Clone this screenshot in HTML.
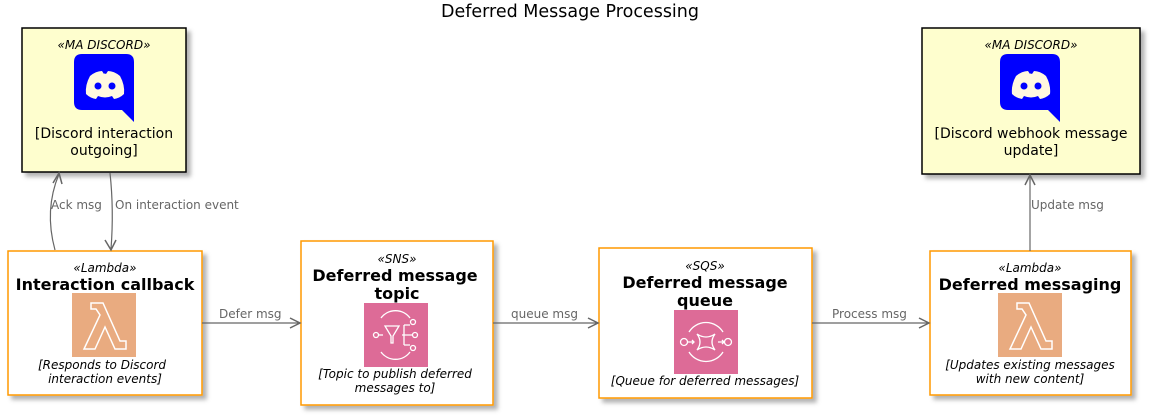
<!DOCTYPE html>
<html><head><meta charset="utf-8"><style>
html,body{margin:0;padding:0;background:#fff;}
svg{display:block;font-family:"DejaVu Sans","Liberation Sans",sans-serif;}
.st{font-size:12px;font-style:italic;fill:#000;}
.ti{font-size:16px;font-weight:bold;fill:#000;}
.ds{font-size:12px;font-style:italic;fill:#000;}
.lb{font-size:12px;fill:#666;}
.dt{font-size:14px;fill:#000;}
.ln{stroke:#666;stroke-width:1.2;fill:none;}
.ah{fill:none;stroke:#666;stroke-width:1.5;}
</style></head><body>
<svg width="1150" height="416" viewBox="0 0 1150 416">
<defs>
<filter id="sh" x="-10%" y="-10%" width="130%" height="130%"><feDropShadow dx="4" dy="4" stdDeviation="2" flood-color="#000" flood-opacity="0.3"/></filter>
<g id="disc">
<path d="M8 0 H52 Q60 0 60 8 V68 L48 56 H8 Q0 56 0 48 V8 Q0 0 8 0Z" fill="#0000ff"/>
<path d="M16 22 Q22 17 28 17 L30 20 Q30 19 32 20 L34 17 Q40 17 46 22 Q51 31 50 40 Q46 44 40 45 L38 42 Q31 45 24 42 L22 45 Q16 44 12 40 Q11 31 16 22Z" fill="#fff8e0"/>
<circle cx="24" cy="32" r="3.5" fill="#0000ff"/><circle cx="38" cy="32" r="3.5" fill="#0000ff"/>
</g>
<g id="lam">
<rect width="64" height="64" fill="#e9ab80"/>
<path d="M19 10 H31 L48 48 H54 V56 H43 L33 34 L23 56 H12 L28 22 L24 16 H19Z" fill="none" stroke="#fff" stroke-width="1.5"/>
</g>
</defs>
<text x="570" y="17" text-anchor="middle" style="font-size:17.5px">Deferred Message Processing</text>

<rect x="22" y="28" width="164" height="144" fill="#fefece" stroke="#000" stroke-width="1.5" filter="url(#sh)"/>
<text x="104" y="49" text-anchor="middle" class="st">«MA DISCORD»</text>
<use href="#disc" x="74" y="54"/>
<text x="104" y="138" text-anchor="middle" class="dt">[Discord interaction</text>
<text x="104" y="155" text-anchor="middle" class="dt">outgoing]</text>

<rect x="922" y="28" width="218" height="146" fill="#fefece" stroke="#000" stroke-width="1.5" filter="url(#sh)"/>
<text x="1031" y="49" text-anchor="middle" class="st">«MA DISCORD»</text>
<use href="#disc" x="1000" y="54"/>
<text x="1031" y="138" text-anchor="middle" class="dt">[Discord webhook message</text>
<text x="1031" y="155" text-anchor="middle" class="dt">update]</text>

<rect x="8" y="251" width="194" height="144" fill="#fff" stroke="#f90" stroke-width="1.5" filter="url(#sh)"/>
<text x="105" y="272" text-anchor="middle" class="st">«Lambda»</text>
<text x="105" y="290" text-anchor="middle" class="ti">Interaction callback</text>
<use href="#lam" x="72" y="293"/>
<text x="102" y="369" text-anchor="middle" class="ds">[Responds to Discord</text>
<text x="105" y="383" text-anchor="middle" class="ds">interaction events]</text>

<rect x="301" y="241" width="192" height="164" fill="#fff" stroke="#f90" stroke-width="1.5" filter="url(#sh)"/>
<text x="397" y="263" text-anchor="middle" class="st">«SNS»</text>
<text x="395" y="281" text-anchor="middle" class="ti">Deferred message</text>
<text x="397" y="299" text-anchor="middle" class="ti">topic</text>
<rect x="364" y="303" width="64" height="64" fill="#dd6b97"/>
<g fill="none" stroke="#fff" stroke-width="1.3">
<path d="M381 318 A18 18 0 0 1 410 318"/><path d="M381 352 A18 18 0 0 0 410 352"/>
<circle cx="376" cy="335" r="2.5"/><path d="M378.5 335 H383"/>
<path d="M385 326 H399 L393 336 V343 H391 V336Z"/>
<path d="M402 335 H412 M404 325 V345 M404 325 H410 M404 345 H410"/>
<circle cx="413" cy="322" r="2.5"/><circle cx="415" cy="335" r="2.5"/><circle cx="413" cy="348" r="2.5"/>
</g>
<text x="395" y="378" text-anchor="middle" class="ds">[Topic to publish deferred</text>
<text x="395" y="392" text-anchor="middle" class="ds">messages to]</text>

<rect x="599" y="248" width="213" height="150" fill="#fff" stroke="#f90" stroke-width="1.5" filter="url(#sh)"/>
<text x="705" y="270" text-anchor="middle" class="st">«SQS»</text>
<text x="705" y="288" text-anchor="middle" class="ti">Deferred message</text>
<text x="705" y="306" text-anchor="middle" class="ti">queue</text>
<rect x="674" y="310" width="64" height="64" fill="#dd6b97"/>
<g fill="none" stroke="#fff" stroke-width="1.3">
<path d="M689 332 A20 20 0 0 1 723 332"/><path d="M689 352 A20 20 0 0 0 723 352"/>
<circle cx="684" cy="342" r="3.5"/><circle cx="728" cy="342" r="3.5"/>
<path d="M688 342 H694 M692 340 L694 342 L692 344 M718 342 H724 M722 340 L724 342 L722 344"/>
<path d="M697 334 Q706 340 715 334 Q709 342 715 350 Q706 344 697 350 Q703 342 697 334Z"/>
</g>
<text x="705" y="385" text-anchor="middle" class="ds">[Queue for deferred messages]</text>

<rect x="930" y="251" width="201" height="144" fill="#fff" stroke="#f90" stroke-width="1.5" filter="url(#sh)"/>
<text x="1030" y="272" text-anchor="middle" class="st">«Lambda»</text>
<text x="1030" y="290" text-anchor="middle" class="ti">Deferred messaging</text>
<use href="#lam" x="998" y="293"/>
<text x="1030" y="369" text-anchor="middle" class="ds">[Updates existing messages</text>
<text x="1030" y="383" text-anchor="middle" class="ds">with new content]</text>

<path class="ln" d="M55 250 Q44 210 59 174"/>
<path class="ah" d="M53 183 L59 173 L62 184"/>
<text x="51" y="209" class="lb">Ack msg</text>

<path class="ln" d="M110 173 Q114 210 111 249"/>
<path class="ah" d="M105 240 L111 250 L116 240"/>
<text x="115" y="209" class="lb">On interaction event</text>

<path class="ln" d="M202 323 H300"/>
<path class="ah" d="M290 318 L300 323 L290 328"/>
<text x="219" y="318" class="lb">Defer msg</text>

<path class="ln" d="M493 323 H598"/>
<path class="ah" d="M588 318 L598 323 L588 328"/>
<text x="511" y="318" class="lb">queue msg</text>

<path class="ln" d="M812 323 H929"/>
<path class="ah" d="M919 318 L929 323 L919 328"/>
<text x="832" y="318" class="lb">Process msg</text>

<path class="ln" d="M1030 251 V175"/>
<path class="ah" d="M1025 185 L1030 175 L1035 185"/>
<text x="1031" y="209" class="lb">Update msg</text>
</svg>
</body></html>
